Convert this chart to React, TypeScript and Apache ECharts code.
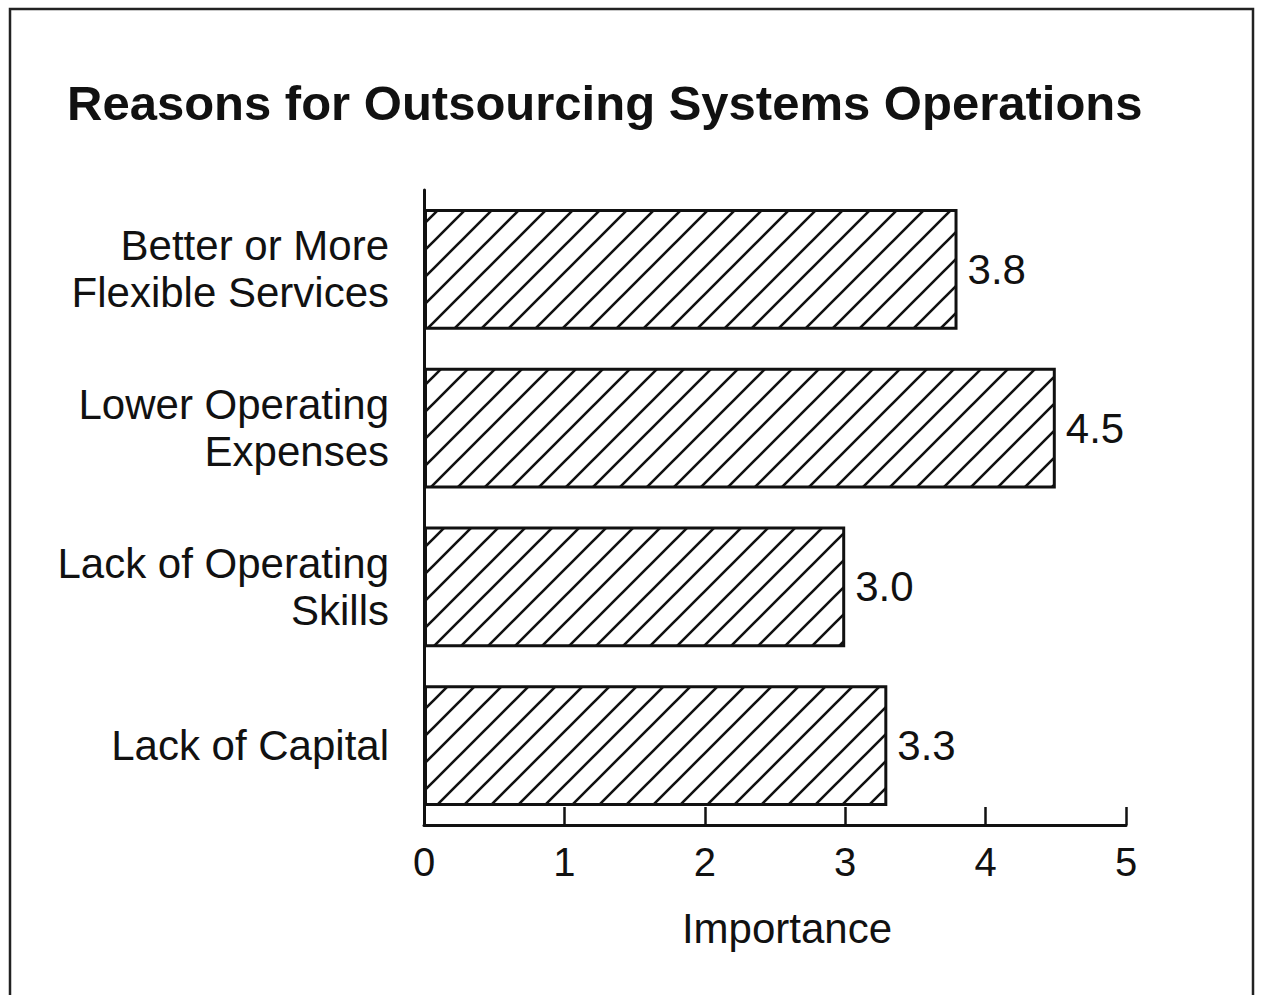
import React, { useEffect, useRef } from "react";
import * as echarts from "echarts";

const categories = [
  "Better or More\nFlexible Services",
  "Lower Operating\nExpenses",
  "Lack of Operating\nSkills",
  "Lack of Capital",
];
const values = [3.8, 4.5, 3.0, 3.3];
const xTicks = [0, 1, 2, 3, 4, 5];
const titleText = "Reasons for Outsourcing Systems Operations";
const xAxisName = "Importance";

function makeHatch(): HTMLCanvasElement {
  const s = 27;
  const c = document.createElement("canvas");
  c.width = s;
  c.height = s;
  const ctx = c.getContext("2d")!;
  ctx.fillStyle = "#ffffff";
  ctx.fillRect(0, 0, s, s);
  ctx.strokeStyle = "#111111";
  ctx.lineWidth = 2.6;
  ctx.beginPath();
  ctx.moveTo(-2, s + 2);
  ctx.lineTo(s + 2, -2);
  ctx.moveTo(-2, 2);
  ctx.lineTo(2, -2);
  ctx.moveTo(s - 2, s + 2);
  ctx.lineTo(s + 2, s - 2);
  ctx.stroke();
  return c;
}

export default function App() {
  const ref = useRef<HTMLDivElement>(null);
  useEffect(() => {
    document.body.style.margin = "0";
    const chart = echarts.init(ref.current!, null, { renderer: "svg" });
    const font = "'Liberation Sans', Arial, Helvetica, sans-serif";
    chart.setOption({
      animation: false,
      backgroundColor: "#ffffff",
      textStyle: { fontFamily: font, color: "#111" },
      title: {
        text: titleText,
        left: 62,
        top: 73,
        textStyle: { fontFamily: font, fontSize: 49, fontWeight: "bold", color: "#111" },
      },
      graphic: [
        {
          type: "rect",
          shape: { x: 10, y: 9, width: 1243, height: 1000 },
          style: { fill: "none", stroke: "#222", lineWidth: 2.5 },
          silent: true,
        },
      ],
      grid: { left: 424, right: 139, top: 190, bottom: 170, containLabel: false },
      xAxis: {
        type: "value",
        min: 0,
        max: 5,
        interval: 1,
        name: xAxisName,
        nameLocation: "middle",
        nameGap: 82,
        nameTextStyle: { fontFamily: font, fontSize: 42, color: "#111", padding: [0, 0, 0, 24] },
        axisLine: { show: true, lineStyle: { color: "#111", width: 3 } },
        axisTick: { show: true, inside: true, length: 18, lineStyle: { color: "#111", width: 2.5 } },
        axisLabel: {
          fontFamily: font,
          fontSize: 40,
          color: "#111",
          margin: 17,
          formatter: (v: number) => (xTicks.includes(v) ? String(v) : ""),
        },
        splitLine: { show: false },
      },
      yAxis: {
        type: "category",
        data: categories,
        inverse: true,
        axisLine: { show: true, lineStyle: { color: "#111", width: 3 } },
        axisTick: { show: false },
        axisLabel: {
          fontFamily: font,
          fontSize: 42,
          color: "#111",
          margin: 35,
          lineHeight: 47,
          align: "right",
        },
      },
      series: [
        {
          type: "bar",
          data: values,
          barCategoryGap: "24%",
          itemStyle: {
            color: { image: makeHatch(), repeat: "repeat" },
            borderColor: "#111",
            borderWidth: 3,
          },
          label: {
            show: true,
            position: "right",
            distance: 10,
            fontFamily: font,
            fontSize: 42,
            color: "#111",
            formatter: (p: any) => Number(p.value).toFixed(1),
          },
        },
      ],
    });
    return () => chart.dispose();
  }, []);
  return <div ref={ref} style={{ width: 1265, height: 995 }} />;
}
